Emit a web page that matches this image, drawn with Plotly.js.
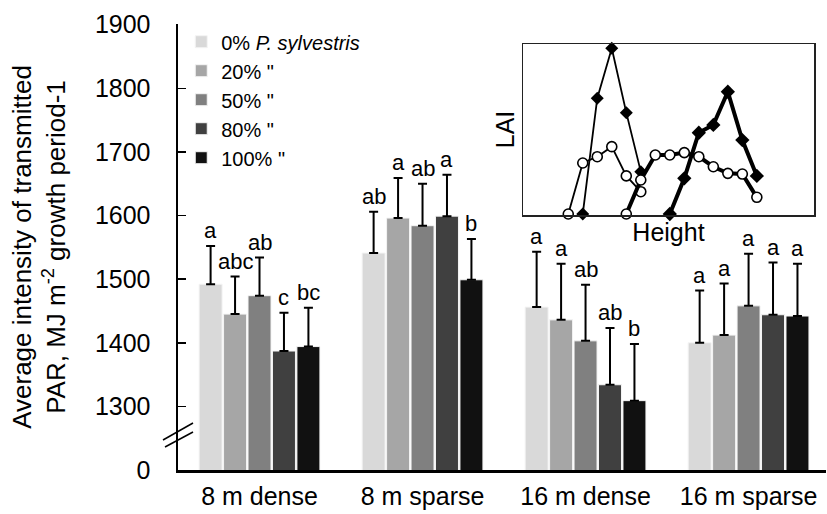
<!DOCTYPE html>
<html>
<head>
<meta charset="utf-8">
<script src="https://cdn.plot.ly/plotly-3.0.1.min.js"></script>
<style>html,body{margin:0;padding:0;background:#fff;}#chart{width:827px;height:514px;}</style>
</head>
<body>
<div id="chart"></div>
<script>
// ---- data ----
var categories = ['8 m dense', '8 m sparse', '16 m dense', '16 m sparse'];
var seriesNames = ['0% <i>P. sylvestris</i>', '20% "', '50% "', '80% "', '100% "'];

var mean0   = [1492, 1541, 1456, 1400];
var mean20  = [1445, 1596, 1436, 1412];
var mean50  = [1474, 1584, 1403, 1458];
var mean80  = [1387, 1599, 1334, 1444];
var mean100 = [1394, 1499, 1309, 1442];

var err0   = [60, 65, 87, 82];
var err20  = [59, 63, 88, 81];
var err50  = [60, 66, 88, 82];
var err80  = [60, 65, 89, 82];
var err100 = [61, 64, 89, 82];

var letters0   = ['a', 'ab', 'a', 'a'];
var letters20  = ['abc', 'a', 'a', 'a'];
var letters50  = ['ab', 'ab', 'ab', 'a'];
var letters80  = ['c', 'a', 'ab', 'a'];
var letters100 = ['bc', 'b', 'b', 'a'];

var yTickVals = [1200, 1300, 1400, 1500, 1600, 1700, 1800, 1900];
var yTickText = ['0', '1300', '1400', '1500', '1600', '1700', '1800', '1900'];

// inset (LAI profile vs height)
var insetThinCircX = [0, 1, 2, 3, 4, 5];
var insetThinCircY = [0, 0.30, 0.337, 0.396, 0.224, 0.131];
var insetThinDiamX = [1, 2, 3, 4, 5];
var insetThinDiamY = [0, 0.681, 0.975, 0.596, 0.249];
var insetThickCircX = [4, 5, 6, 7, 8, 9, 10, 11, 12, 13];
var insetThickCircY = [0, 0.2, 0.347, 0.347, 0.361, 0.337, 0.278, 0.239, 0.235, 0.098];
var insetThickDiamX = [7, 8, 9, 10, 11, 12, 13];
var insetThickDiamY = [0, 0.21, 0.478, 0.524, 0.719, 0.435, 0.224];

// ---- styling ----
var FONT = 'Liberation Sans, Arial, Helvetica, sans-serif';
var colors = ['#d9d9d9', '#a6a6a6', '#808080', '#404040', '#111111'];
var means = [mean0, mean20, mean50, mean80, mean100];
var errs = [err0, err20, err50, err80, err100];
var letters = [letters0, letters20, letters50, letters80, letters100];
var BARGAP = 0.25;

var traces = [];
for (var i = 0; i < 5; i++) {
  traces.push({
    type: 'bar',
    name: seriesNames[i],
    x: categories,
    y: means[i],
    marker: {color: colors[i], line: {color: '#f4f4f4', width: 1}},
    error_y: {type: 'data', symmetric: false, array: errs[i], arrayminus: errs[i].map(function(){return 0;}),
              color: '#000', thickness: 2, width: 4.5},
    xaxis: 'x', yaxis: 'y'
  });
}

function insetTrace(x, y, sym, thick) {
  var circle = sym === 'circle';
  return {
    type: 'scatter', mode: 'lines+markers', x: x, y: y,
    xaxis: 'x2', yaxis: 'y2', showlegend: false, hoverinfo: 'skip',
    line: {color: '#000', width: thick ? 4 : 1.8},
    marker: circle ? {symbol: 'circle', size: 10, color: '#fff', line: {color: '#000', width: 1.6}}
                   : {symbol: 'diamond', size: thick ? 11 : 10, color: '#000', line: {color: '#000', width: 0}},
    cliponaxis: false
  };
}
traces.push(insetTrace(insetThinCircX, insetThinCircY, 'circle', false));
traces.push(insetTrace(insetThinDiamX, insetThinDiamY, 'diamond', false));
traces.push(insetTrace(insetThickCircX, insetThickCircY, 'circle', true));
traces.push(insetTrace(insetThickDiamX, insetThickDiamY, 'diamond', true));

// significance letters above error bars
var annotations = [];
var slot = (1 - BARGAP) / 5;
for (var s = 0; s < 5; s++) {
  for (var c = 0; c < categories.length; c++) {
    annotations.push({
      xref: 'x', yref: 'y',
      x: c + (s - 2) * slot,
      y: means[s][c] + errs[s][c],
      text: letters[s][c],
      showarrow: false, yanchor: 'bottom', xanchor: 'center', yshift: 1,
      font: {family: FONT, size: 22, color: '#000'}
    });
  }
}

var W = 648, H = 446, L = 178, T = 24;
function px(v) { return (v - L) / W; }
function py(v) { return (T + H - v) / H; }

var layout = {
  width: 827, height: 514, autosize: false,
  margin: {l: L, r: 827 - L - W, t: T, b: 514 - T - H, pad: 0},
  paper_bgcolor: '#fff', plot_bgcolor: 'rgba(0,0,0,0)',
  font: {family: FONT, color: '#000', size: 25},
  barmode: 'group', bargap: BARGAP, bargroupgap: 0.06,
  showlegend: true,
  legend: {x: 0.005, y: 1.004, xanchor: 'left', yanchor: 'top', bgcolor: 'rgba(0,0,0,0)',
           font: {family: FONT, size: 20, color: '#000'}, traceorder: 'normal', itemwidth: 30},
  xaxis: {
    type: 'category', range: [-0.5, 3.475], domain: [0, 1],
    showline: true, linecolor: '#000', linewidth: 2.5, ticks: '', showgrid: false, zeroline: false,
    tickfont: {family: FONT, size: 25, color: '#000'}, ticklabelstandoff: 2, fixedrange: true
  },
  yaxis: {
    range: [1200, 1901], domain: [0, 1],
    tickmode: 'array', tickvals: yTickVals, ticktext: yTickText,
    showline: true, linecolor: '#000', linewidth: 2.5, ticks: 'inside', ticklen: 8, tickwidth: 1.5, tickcolor: '#000',
    showgrid: false, zeroline: false,
    tickfont: {family: FONT, size: 25, color: '#000'}, ticklabelstandoff: 20,
    title: {text: 'Average intensity of transmitted<br>PAR, MJ m<sup>-2</sup> growth period-1',
            font: {family: FONT, size: 26, color: '#000'}, standoff: 22}
  },
  xaxis2: {
    domain: [px(523), px(814)], anchor: 'y2', range: [-3.12, 16.94],
    showline: true, mirror: true, linecolor: '#222', linewidth: 1.5,
    showticklabels: false, ticks: '', showgrid: false, zeroline: false,
    title: {text: 'Height', font: {family: FONT, size: 25, color: '#000'}, standoff: 8}
  },
  yaxis2: {
    domain: [py(215), py(44)], anchor: 'x2', range: [-0.006, 1.0],
    showline: true, mirror: true, linecolor: '#222', linewidth: 1.5,
    showticklabels: false, ticks: '', showgrid: false, zeroline: false,
    title: {text: 'LAI', font: {family: FONT, size: 25, color: '#000'}, standoff: 0}
  },
  shapes: [
    {type: 'line', xref: 'paper', yref: 'paper', x0: px(163), y0: py(440), x1: px(193), y1: py(423), line: {color: '#000', width: 1.5}},
    {type: 'line', xref: 'paper', yref: 'paper', x0: px(165), y0: py(447), x1: px(193), y1: py(432), line: {color: '#000', width: 1.5}}
  ],
  annotations: annotations
};

Plotly.newPlot('chart', traces, layout, {staticPlot: true, displayModeBar: false});
</script>
</body>
</html>
